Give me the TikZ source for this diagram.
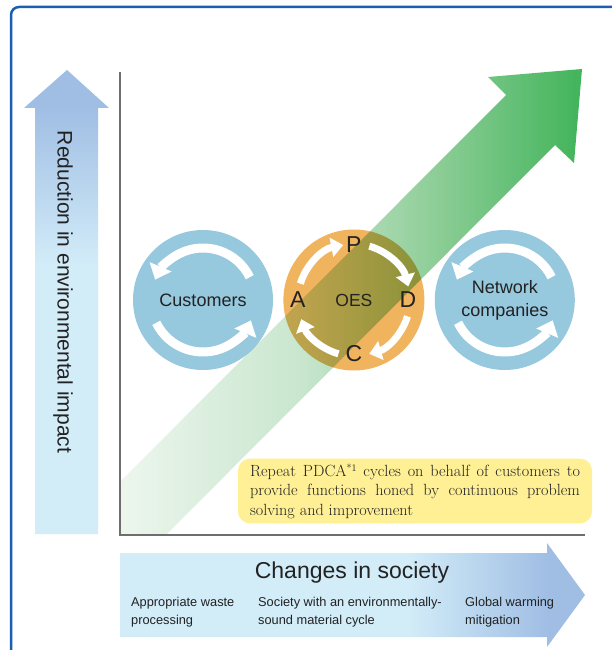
\documentclass[tikz,border=0pt]{standalone}
\usepackage{fontspec}
\setsansfont{Liberation Sans}
\usepackage{tikz}
\usetikzlibrary{positioning, arrows.meta, calc}
\definecolor{frameblue}{HTML}{1A5FB4}
\definecolor{trendblue}{HTML}{A0BEE4}
\definecolor{trendlight}{HTML}{D2ECF8}
\definecolor{circblue}{HTML}{96C8DE}
\definecolor{circorange}{HTML}{F0B45F}
\definecolor{notefill}{HTML}{FFF096}
\definecolor{growth}{HTML}{41B45A}
\definecolor{growthA}{HTML}{F8FBF8}
\definecolor{growthB}{HTML}{C8E6CD}
\definecolor{growthC}{HTML}{8CCD96}
\definecolor{axisgray}{HTML}{6E6E6E}
\definecolor{ink}{HTML}{222222}
\pgfdeclareverticalshading{upshade}{100bp}{color(0bp)=(trendlight); color(54bp)=(trendlight); color(71bp)=(trendblue); color(100bp)=(trendblue)}
\pgfdeclarehorizontalshading{rightshade}{100bp}{color(0bp)=(trendlight); color(56bp)=(trendlight); color(71bp)=(trendblue); color(100bp)=(trendblue)}
\pgfdeclarehorizontalshading{growthshade}{100bp}{color(0bp)=(growthA); color(25bp)=(growthA); color(48bp)=(growthB); color(61bp)=(growthC); color(75bp)=(growth); color(100bp)=(growth)}
\tikzset{
  frame/.style    = {draw=frameblue, line width=2.5pt, rounded corners=8pt},
  axisline/.style = {draw=axisgray, line width=2pt},
  party/.style    = {circle, fill=circblue, minimum size=140pt, inner sep=0pt,
                     align=center, text=ink, font=\sffamily\fontsize{18}{23}\selectfont},
  hub/.style      = {circle, fill=circorange, minimum size=141pt, inner sep=0pt},
  cyc/.style      = {draw=white, line width=9pt, -{Triangle[width=23pt,length=14pt]}},
  pdca/.style     = {draw=white, line width=7pt, -{Triangle[width=19pt,length=12pt]}},
  pdcalbl/.style  = {inner sep=0pt, text=ink, font=\sffamily\fontsize{23}{23}\selectfont},
  hublbl/.style   = {inner sep=0pt, text=ink, font=\sffamily\fontsize{17.5}{20}\selectfont},
  axistitle/.style= {inner sep=0pt, text=ink, font=\sffamily\fontsize{23}{26}\selectfont},
  subtext/.style  = {inner sep=0pt, anchor=west, align=left, text=ink,
                     font=\sffamily\fontsize{12.8}{18}\selectfont},
  note/.style     = {rectangle, rounded corners=12pt, fill=notefill, inner xsep=12pt,
                     inner ysep=5pt, align=justify, text=ink,
                     font=\fontsize{16.2}{19.5}\selectfont},
}
\begin{document}
\begin{tikzpicture}[x=1pt, y=-1pt]
  \useasboundingbox (0,0) rectangle (611,650);
  \fill[white] (0,0) rectangle (611,650);
  \draw[frame] (11,7) rectangle (660,700);

  \shade[shading=upshade] (35,534) -- (35,108) -- (24,108) -- (67,70) -- (109,108)
    -- (98,108) -- (98,534) -- cycle;
  \node[axistitle, rotate=-90, font=\sffamily\fontsize{21}{24}\selectfont] (impact) at (63,292)
    {Reduction in environmental impact};

  \shade[shading=rightshade] (120,553) -- (547,553) -- (547,543) -- (585,595) -- (547,647)
    -- (547,637) -- (120,637) -- cycle;
  \node[axistitle] (society) at (352,573) {Changes in society};
  \node[subtext] (waste) at (131,612) {Appropriate waste\\processing};
  \node[subtext] (cycle) at (258,612) {Society with an environmentally-\\sound material cycle};
  \node[subtext] (warming) at (465,612) {Global warming\\mitigation};

  \node[party] (cust) at (203,300) {};
  \node[hub, right=10pt of cust] (oes) {};
  \node[party, right=10pt of oes] (net) {};

  \begin{scope}[blend mode=multiply]
    \clip (121,0) rectangle (611,534);
    \shade[shading=growthshade] (66,536) -- (506,95) -- (488,77) -- (582,69) -- (574,163)
      -- (555,145) -- (115,586) -- cycle;
  \end{scope}

  \coordinate (origin) at (120,535);
  \draw[axisline] (120,72) -- (origin) -- (585,535);

  \draw[cyc] (cust.center) ++(26:52pt) arc[start angle=26, end angle=157, radius=52pt];
  \draw[cyc] (cust.center) ++(206:52pt) arc[start angle=206, end angle=337, radius=52pt];
  \draw[cyc] (net.center) ++(26:52pt) arc[start angle=26, end angle=157, radius=52pt];
  \draw[cyc] (net.center) ++(206:52pt) arc[start angle=206, end angle=337, radius=52pt];

  \draw[pdca] (oes.center) ++(163:56pt) arc[start angle=163, end angle=101, radius=56pt];
  \draw[pdca] (oes.center) ++(74:56pt) arc[start angle=74, end angle=14, radius=56pt];
  \draw[pdca] (oes.center) ++(-17:56pt) arc[start angle=-17, end angle=-74, radius=56pt];
  \draw[pdca] (oes.center) ++(-106:56pt) arc[start angle=-106, end angle=-160, radius=56pt];

  \node[party, fill=none] at (cust) {Customers};
  \node[party, fill=none] at (net) {Network\\companies};
  \node[hublbl] (oeslbl) at (oes) {OES};
  \node[pdcalbl] (plan) at ([yshift=55pt]oes.center) {P};
  \node[pdcalbl] (do) at ([xshift=54pt]oes.center) {D};
  \node[pdcalbl] (check) at ([yshift=-54pt]oes.center) {C};
  \node[pdcalbl] (act) at ([xshift=-56pt]oes.center) {A};

  \node[note, text width=330pt] (msg) at (415,491)
    {Repeat PDCA{\fontsize{10}{10}\selectfont\raisebox{5pt}{*1}} cycles on behalf of customers to\linebreak
     provide functions honed by continuous problem\linebreak
     solving and improvement};

\end{tikzpicture}
\end{document}
